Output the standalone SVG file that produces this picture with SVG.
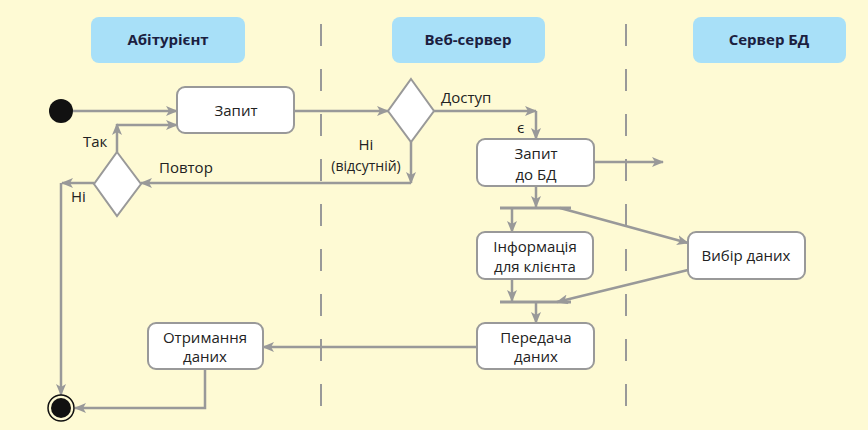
<svg xmlns="http://www.w3.org/2000/svg" width="868" height="430" viewBox="0 0 868 430">
<style>
.hdr{fill:#a8e0f8}
.ht{font-family:"Open Sans","Noto Sans",sans-serif;font-size:15px;font-weight:bold;fill:#1b2040;text-anchor:middle}
.box{fill:#fff;stroke:#999;stroke-width:2}
.t{font-family:"Open Sans","Noto Sans",sans-serif;font-size:15px;fill:#222;text-anchor:middle}
.l{font-family:"Open Sans","Noto Sans",sans-serif;font-size:15px;fill:#222}
.c{fill:none;stroke:#999;stroke-width:2.5}
.bar{fill:none;stroke:#999;stroke-width:3}
.lane{stroke:#999;stroke-width:2;stroke-dasharray:22 23}
</style>
<defs>
<marker id="a" viewBox="0 0 12 10" refX="11" refY="5" markerWidth="12" markerHeight="10" orient="auto" markerUnits="userSpaceOnUse">
<path d="M0,0 L12,5 L0,10 L3,5 z" fill="#999"/>
</marker>
</defs>
<rect width="868" height="430" fill="#fefad4"/>
<g id="lanes">
<line class="lane" x1="321" y1="24" x2="321" y2="410"/>
<line class="lane" x1="626" y1="24" x2="626" y2="410"/>
</g>
<g id="h1"><rect class="hdr" x="91" y="17" width="154" height="46" rx="8"/><text class="ht" x="168" y="45">Абітурієнт</text></g>
<g id="h2"><rect class="hdr" x="392" y="17" width="153" height="46" rx="8"/><text class="ht" x="468" y="45">Веб-сервер</text></g>
<g id="h3"><rect class="hdr" x="693" y="17" width="153" height="46" rx="8"/><text class="ht" x="769" y="45">Сервер БД</text></g>
<g id="connectors">
<path class="c" d="M73,111 H177" marker-end="url(#a)"/>
<path class="c" d="M294,111 H388" marker-end="url(#a)"/>
<path class="c" d="M434,111 H536" marker-end="url(#a)"/>
<path class="c" d="M536,111 V139" marker-end="url(#a)"/>
<path class="c" d="M594,162 H663" marker-end="url(#a)"/>
<path class="c" d="M411,142 V183" marker-end="url(#a)"/>
<path class="c" d="M411,183 H141" marker-end="url(#a)"/>
<path class="c" d="M117,152 V124" marker-end="url(#a)"/>
<path class="c" d="M117,125 H177" marker-end="url(#a)"/>
<path class="c" d="M94,183 H62" marker-end="url(#a)"/>
<path class="c" d="M61,183 V395" marker-end="url(#a)"/>
<path class="c" d="M536,187 V207" marker-end="url(#a)"/>
<path class="bar" d="M500,208 H571"/>
<path class="c" d="M512,208 V232" marker-end="url(#a)"/>
<path class="c" d="M560,208 L688,243" marker-end="url(#a)"/>
<path class="c" d="M688,270 L557,302" marker-end="url(#a)"/>
<path class="c" d="M512,279 V301" marker-end="url(#a)"/>
<path class="bar" d="M500,302 H571"/>
<path class="c" d="M536,302 V323" marker-end="url(#a)"/>
<path class="c" d="M477,347 H263" marker-end="url(#a)"/>
<path class="c" d="M205,369 V408 H75" marker-end="url(#a)"/>
<text class="l" x="441" y="103">Доступ</text>
<text class="l" x="517" y="133">є</text>
<text class="t" x="366" y="150">Ні</text>
<text class="t" x="366" y="171" style="font-size:14px">(відсутній)</text>
<text class="l" x="159" y="173">Повтор</text>
<text class="l" x="83" y="147">Так</text>
<text class="l" x="71" y="202">Ні</text>
</g>
<g id="start"><circle cx="61" cy="111" r="12" fill="#111"/></g>
<g id="end"><circle cx="61" cy="408" r="13" fill="#fefad4" stroke="#111" stroke-width="1.5"/><circle cx="61" cy="408" r="10" fill="#111"/></g>
<g id="zapyt"><rect class="box" x="177" y="87" width="117" height="46" rx="8"/><text class="t" x="236" y="116">Запит</text></g>
<g id="d1"><polygon class="box" points="411,79 434,111 411,142 388,111"/></g>
<g id="d2"><polygon class="box" points="117,152 141,184 117,216 94,184"/></g>
<g id="zapytbd"><rect class="box" x="477" y="139" width="117" height="47" rx="8"/><text class="t" x="536" y="159">Запит</text><text class="t" x="536" y="180">до  БД</text></g>
<g id="info"><rect class="box" x="477" y="232" width="116" height="47" rx="8"/><text class="t" x="535" y="252">Інформація</text><text class="t" x="535" y="272">для  клієнта</text></g>
<g id="vybir"><rect class="box" x="688" y="232" width="117" height="47" rx="8"/><text class="t" x="746" y="261">Вибір даних</text></g>
<g id="peredacha"><rect class="box" x="477" y="323" width="117" height="46" rx="8"/><text class="t" x="536" y="343">Передача</text><text class="t" x="536" y="362">даних</text></g>
<g id="otrym"><rect class="box" x="148" y="323" width="115" height="46" rx="8"/><text class="t" x="205" y="343">Отримання</text><text class="t" x="205" y="362">даних</text></g>
</svg>
